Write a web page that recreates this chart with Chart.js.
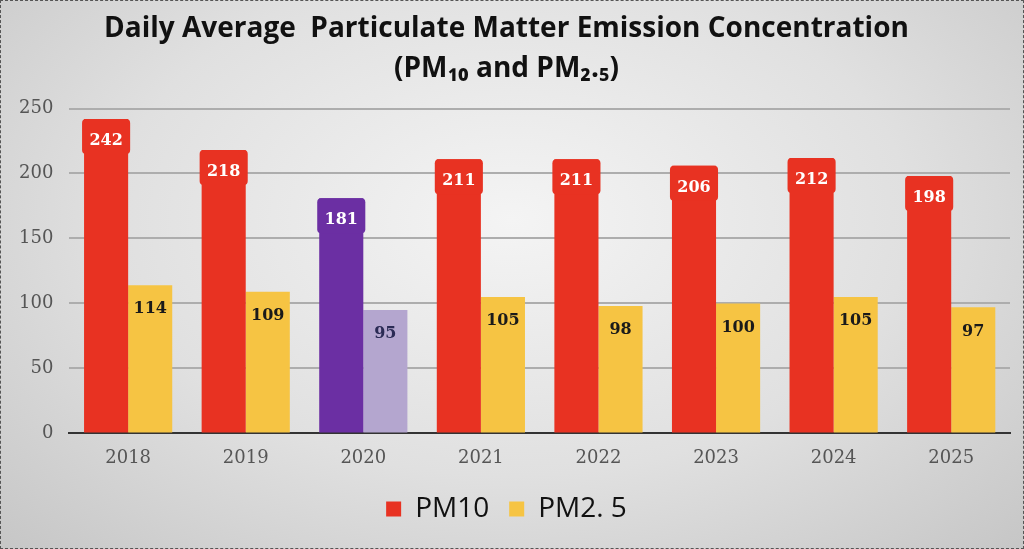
<!DOCTYPE html>
<html>
<head>
<meta charset="utf-8">
<script src="https://cdn.jsdelivr.net/npm/chart.js@4.4.1/dist/chart.umd.min.js"></script>
<style>
  html, body { margin: 0; padding: 0; }
  body {
    width: 1024px; height: 549px; overflow: hidden;
    background: radial-gradient(ellipse at 50% 40%, #f4f4f4 0%, #e0e0e0 55%, #c6c6c6 100%);
  }
  #wrap {
    position: absolute; left: 0; top: 0; width: 1022px; height: 547px;
    border: 1px dashed #555;
  }
  canvas { display: block; }
</style>
</head>
<body>
<div id="wrap"><canvas id="pmChart" width="1022" height="547"></canvas></div>
<script>
// data
var years = ['2018', '2019', '2020', '2021', '2022', '2023', '2024', '2025'];
var pm10  = [242, 218, 181, 211, 211, 206, 212, 198];
var pm25  = [114, 109, 95, 105, 98, 100, 105, 97];
var yTicks = [0, 50, 100, 150, 200, 250];

var RED = '#e83222', YELLOW = '#f6c443';
var PURPLE = '#6b2fa3', LILAC = '#b4a6cf';

// 2020 is highlighted in purple
var pm10Colors = years.map(function (y) { return y === '2020' ? PURPLE : RED; });
var pm25Colors = years.map(function (y) { return y === '2020' ? LILAC : YELLOW; });

function roundRect(ctx, x, y, w, h, r) {
  ctx.beginPath();
  ctx.moveTo(x + r, y);
  ctx.lineTo(x + w - r, y);
  ctx.quadraticCurveTo(x + w, y, x + w, y + r);
  ctx.lineTo(x + w, y + h - r);
  ctx.quadraticCurveTo(x + w, y + h, x + w - r, y + h);
  ctx.lineTo(x + r, y + h);
  ctx.quadraticCurveTo(x, y + h, x, y + h - r);
  ctx.lineTo(x, y + r);
  ctx.quadraticCurveTo(x, y, x + r, y);
  ctx.closePath();
}

// value labels: badge on PM10 bars, plain text inside PM2.5 bars
var valueLabels = {
  id: 'valueLabels',
  afterDatasetsDraw: function (chart) {
    var ctx = chart.ctx;
    ctx.save();
    ctx.textAlign = 'center';
    ctx.textBaseline = 'middle';
    ctx.font = "bold 16px 'DejaVu Serif', serif";

    chart.getDatasetMeta(0).data.forEach(function (bar, i) {
      var w = bar.width + 4;
      roundRect(ctx, bar.x - w / 2, bar.y, w, 35, 4);
      ctx.fillStyle = pm10Colors[i];
      ctx.fill();
      ctx.fillStyle = '#ffffff';
      ctx.fillText(pm10[i], bar.x, bar.y + 22);
    });

    chart.getDatasetMeta(1).data.forEach(function (bar, i) {
      ctx.fillStyle = years[i] === '2020' ? '#2b2b55' : '#1a1a1a';
      ctx.fillText(pm25[i], bar.x, bar.y + 24);
    });
    ctx.restore();
  }
};

new Chart(document.getElementById('pmChart'), {
  type: 'bar',
  data: {
    labels: years,
    datasets: [
      {
        label: 'PM10',
        data: pm10,
        backgroundColor: pm10Colors,
        categoryPercentage: 0.75,
        barPercentage: 1.0
      },
      {
        label: 'PM2. 5',
        data: pm25,
        backgroundColor: pm25Colors,
        categoryPercentage: 0.75,
        barPercentage: 1.0
      }
    ]
  },
  options: {
    responsive: false,
    animation: false,
    layout: { padding: { left: 2, right: 13, top: 4, bottom: 15 } },
    plugins: {
      title: {
        display: true,
        text: ['Daily Average  Particulate Matter Emission Concentration', '(PM\u2081\u2080 and PM\u2082.\u2085)'],
        color: '#111111',
        font: { family: "'Open Sans', sans-serif", size: 28, weight: 'bold', lineHeight: 1.42 },
        padding: { top: 4, bottom: 20 }
      },
      legend: {
        position: 'bottom',
        labels: {
          color: '#111111',
          font: { family: "'Open Sans', sans-serif", size: 28 },
          boxWidth: 15,
          boxHeight: 15,
          padding: 20
        }
      },
      tooltip: { enabled: false }
    },
    scales: {
      x: {
        grid: { display: false },
        border: { color: '#333333', width: 2 },
        ticks: { color: '#555555', font: { family: "'DejaVu Serif', serif", size: 18 }, padding: 6 }
      },
      y: {
        min: 0,
        max: 250,
        afterBuildTicks: function (axis) {
          axis.ticks = yTicks.map(function (v) { return { value: v }; });
        },
        grid: { color: '#adadad', lineWidth: 2, drawTicks: false },
        border: { display: false },
        ticks: { color: '#555555', font: { family: "'DejaVu Serif', serif", size: 18 }, padding: 16 }
      }
    }
  },
  plugins: [valueLabels]
});
</script>
</body>
</html>
